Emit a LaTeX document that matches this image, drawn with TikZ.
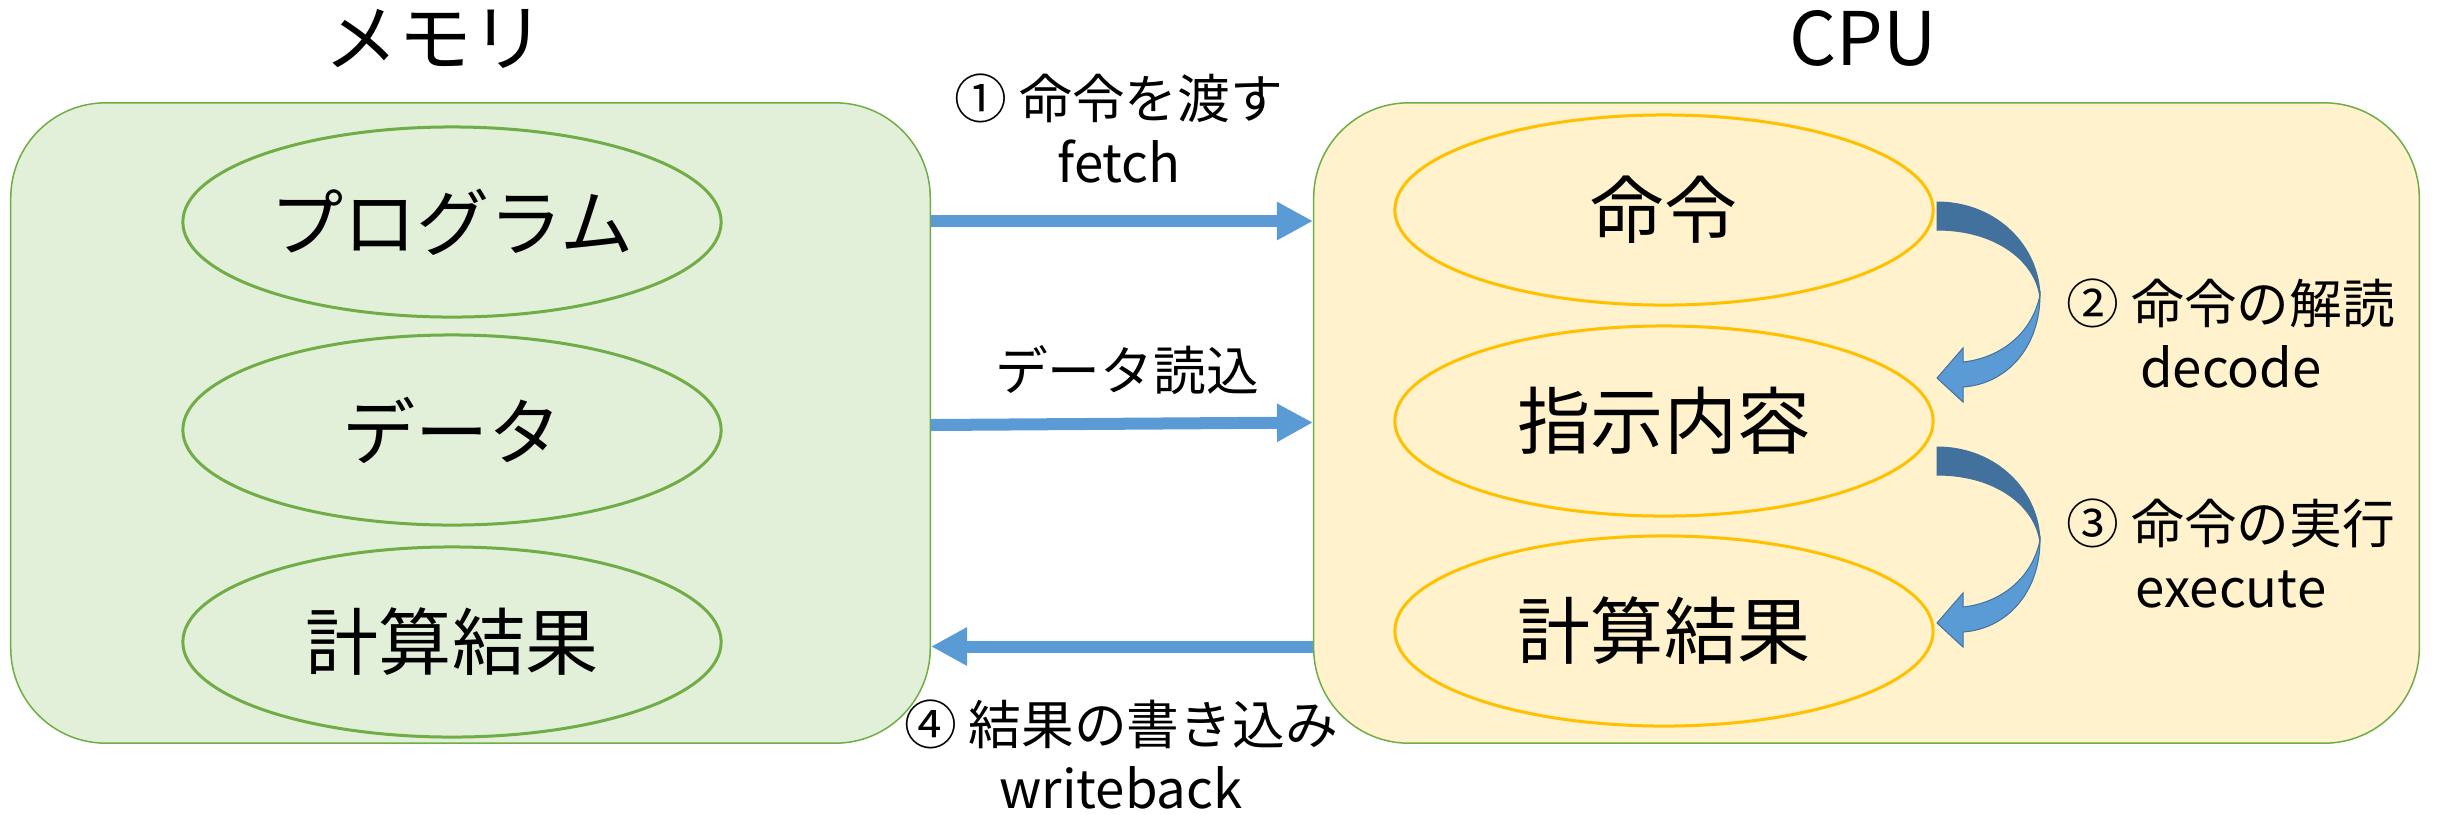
\documentclass[tikz,border=0pt]{standalone}
\usepackage{fontspec}
\setmainfont{Noto Sans CJK JP}
\usetikzlibrary{arrows.meta,shapes.geometric}
\definecolor{memfill}{HTML}{E2F0D9}
\definecolor{grn}{HTML}{70AD47}
\definecolor{cpufill}{HTML}{FFF2CC}
\definecolor{gold}{HTML}{FFC000}
\definecolor{blu}{HTML}{5B9BD5}
\definecolor{bludark}{HTML}{41719C}
\begin{document}
\begin{tikzpicture}[x=0.01cm,y=-0.01cm,
  box/.style={draw=grn, line width=0.015cm, rounded corners=0.95cm, minimum height=6.4cm, inner sep=0pt},
  oval/.style={ellipse, line width=0.03cm, minimum width=5.38cm, minimum height=1.9cm, inner sep=0pt,
    font=\fontsize{20.8pt}{25pt}\selectfont},
  title/.style={font=\fontsize{21pt}{25pt}\selectfont, inner sep=0pt},
  lab/.style={font=\fontsize{15pt}{18pt}\selectfont, align=center, inner sep=0pt},
  bar/.style={draw=blu, line width=0.12cm, -{Triangle[length=0.36cm,width=0.36cm]}},
  curvarr/.pic={
    \filldraw[fill=bludark, draw=bludark, line width=0.01cm] (0,0) .. controls (60,0) and (103,45) .. (103,96)
       .. controls (99,60) and (60,28) .. (0,28) -- cycle;
    \filldraw[fill=blu, draw=bludark, line width=0.01cm]
       (103,93) .. controls (103,145) and (70,182) .. (26,185) -- (26,200) -- (0,176)
       -- (26,146) -- (26,160) .. controls (63,156) and (95,132) .. (103,93) -- cycle;
  }]
\useasboundingbox (0,0) rectangle (2438,814);

% boxes
\node[box, fill=memfill, minimum width=9.19cm] (mem) at (470.5,423) {};
\node[box, fill=cpufill, minimum width=11.05cm] (cpu) at (1866.5,423) {};

% titles
\node[title, anchor=base] (tmem) at (435,65) {メモリ};
\node[title, anchor=base] (tcpu) at (1863,65) {CPU};

% memory items
\node[oval, draw=grn] (m1) at (452,222) {プログラム};
\node[oval, draw=grn] (m2) at (452,430) {データ};
\node[oval, draw=grn] (m3) at (452,642) {計算結果};

% cpu items
\node[oval, draw=gold] (c1) at (1664,210) {命令};
\node[oval, draw=gold] (c2) at (1664,421) {指示内容};
\node[oval, draw=gold] (c3) at (1664,631) {計算結果};

% straight arrows
\draw[bar] (mem.east |- 0,221) -- (cpu.west |- 0,221);
\draw[bar] (mem.east |- 0,425) -- (cpu.west |- 0,422.5);
\draw[bar] (cpu.west |- 0,646.5) -- (mem.east |- 0,646.5);

% curved arrows
\pic at (1937,202) {curvarr};
\pic at (1937,447) {curvarr};

% labels (base = baseline of the last line)
\node[lab, anchor=base] (l1) at (1119,182) {① 命令を渡す\\fetch};
\node[lab, anchor=base] (l2) at (1127,390) {データ読込};
\node[lab, anchor=base] (l4) at (1121,808) {④ 結果の書き込み\\writeback};
\node[lab, anchor=base] (l5) at (2231,387) {② 命令の解読\\decode};
\node[lab, anchor=base] (l6) at (2231,607) {③ 命令の実行\\execute};
\end{tikzpicture}
\end{document}
